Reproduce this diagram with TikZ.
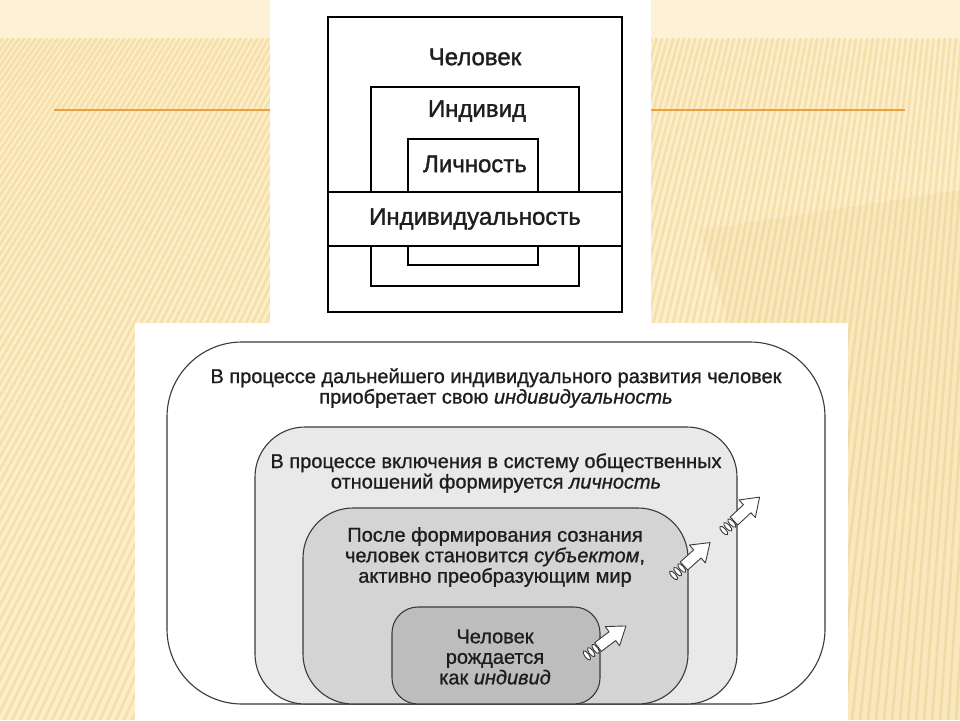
\documentclass[tikz,border=0pt]{standalone}
\usepackage{fontspec}
\setmainfont{Liberation Sans}
\newfontfamily\heavyfont{Liberation Sans}[FakeBold=1.0]
\newfontfamily\topfont{Liberation Sans}[FakeBold=1.4]
\definecolor{bgbase}{HTML}{FDEEC9}
\definecolor{bgtop}{HTML}{FDF2D6}
\definecolor{stripec}{HTML}{F5DFAB}
\definecolor{shadowc}{HTML}{E2BE72}
\definecolor{rulec}{HTML}{E9A23B}
\definecolor{boxline}{HTML}{3A3A3A}
\definecolor{gA}{HTML}{E9E9E9}
\definecolor{gB}{HTML}{D4D4D4}
\definecolor{gC}{HTML}{BDBDBD}
\definecolor{txt}{HTML}{1E1E1E}
\begin{document}
\begin{tikzpicture}[x=1pt,y=-1pt,
  sq/.style={draw=black, line width=2.4pt, anchor=north west, inner sep=0pt, outer sep=0pt},
  rbox/.style={draw=boxline, line width=1.1pt, anchor=north west, inner sep=0pt, outer sep=0pt},
  toplabel/.style={font=\topfont\fontsize{24}{28}\selectfont, text=txt, inner sep=0pt},
  botlabel/.style={font=\heavyfont\fontsize{20}{20.5}\selectfont, text=txt, align=center, inner sep=0pt},
  arrowline/.style={draw=boxline, line width=0.9pt, fill=white, line join=round},
  grow/.pic={
    \path[arrowline] (0,-5.5) -- (18,-5.5) -- (18,-12) -- (35,0) -- (18,12) -- (18,5.5) -- (0,5.5) -- cycle;
    \foreach \t in {-3,-8.5,-14} \path[arrowline] (\t,0) ellipse (2.2 and 5.5);
  }
]
\useasboundingbox (0,0) rectangle (960,720);
% background
\fill[bgbase] (0,0) rectangle (960,720);
\fill[bgtop] (0,0) rectangle (960,40);
\begin{scope}
  \clip (0,38) rectangle (960,720);
  \foreach \s in {-700,-692,...,960} \draw[stripec, line width=2.6pt] (\s,720) -- (1100,-1500);
  \fill[shadowc, opacity=0.12] (700,230) -- (960,190) -- (960,720) -- (848,720) -- cycle;
\end{scope}
\draw[rulec, line width=2.2pt] (54,110) -- (905,110);
% panels
\fill[white] (270,0) rectangle (651,323);
\fill[white] (135,323) rectangle (848,720);
% top diagram
\node[sq, minimum width=294pt, minimum height=295pt] (outerT) at (328,17) {};
\node[sq, minimum width=208pt, minimum height=199pt] (midT) at (371,87) {};
\node[sq, minimum width=130pt, minimum height=126pt] (innT) at (408,139) {};
\node[sq, fill=white, minimum width=294pt, minimum height=54pt] (band) at (328,192) {};
\node[toplabel] (lblChel) at (475,57) {Человек};
\node[toplabel] (lblInd) at (477,111) {Индивид};
\node[toplabel] (lblLich) at (475,164) {Личность};
\node[toplabel] (lblIndv) at (475,219) {Индивидуальность};
% bottom diagram
\node[rbox, fill=white, rounded corners=75pt, minimum width=658pt, minimum height=362pt] (b1) at (167,342) {};
\node[rbox, fill=gA, rounded corners=50pt, minimum width=482pt, minimum height=277pt] (b2) at (255,427) {};
\node[rbox, fill=gB, rounded corners=50pt, minimum width=385pt, minimum height=196pt] (b3) at (303,508) {};
\node[rbox, fill=gC, rounded corners=26pt, minimum width=208pt, minimum height=97pt] (b4) at (392,607) {};
\node[botlabel] (t1) at (496,388) {В процессе дальнейшего индивидуального развития человек\\приобретает свою \textit{индивидуальность}};
\node[botlabel] (t2) at (496,473) {В процессе включения в систему общественных\\отношений формируется \textit{личность}};
\node[botlabel] (t3) at (495,557) {После формирования сознания\\человек становится \textit{субъектом},\\активно преобразующим мир};
\node[botlabel] (t4) at (495,657) {Человек\\рождается\\как \textit{индивид}};
% growth arrows
\pic[rotate=37] at (598,647) {grow};
\pic[rotate=42] at (684,566) {grow};
\pic[rotate=43] at (734,521) {grow};
\end{tikzpicture}
\end{document}
